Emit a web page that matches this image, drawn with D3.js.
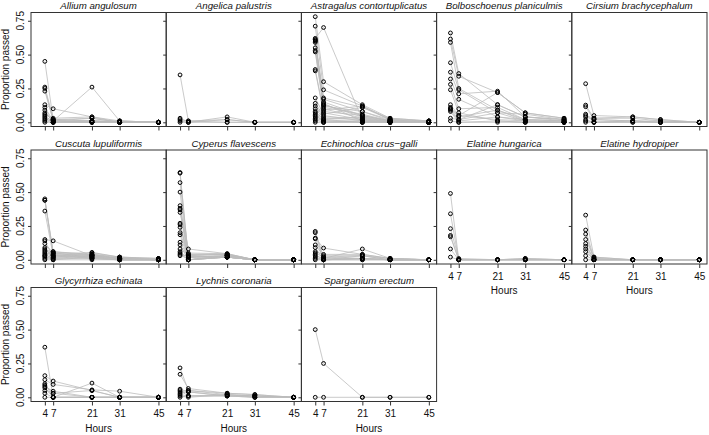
<!DOCTYPE html>
<html>
<head>
<meta charset="utf-8">
<style>
    body { margin: 0; background: #fff; }
    svg { display: block; font-family: "Liberation Sans", Arial, sans-serif; }
    .title { font-style: italic; font-size: 9.7px; fill: #111; }
    .axis text { font-size: 10px; fill: #111; font-family: "Liberation Sans", Arial, sans-serif; }
    .axis .domain { display: none; }
    .lab { font-size: 10px; fill: #111; }
</style>
</head>
<body>
<svg width="709" height="435"></svg>
<script src="https://d3js.org/d3.v7.min.js"></script>
<script>
// sampling times (hours) and y ticks
let hours = [4, 7, 21, 31, 45];
let yTicks = [0, 0.25, 0.5, 0.75];

let speciesNames = ["Allium angulosum", "Angelica palustris", "Astragalus contortuplicatus",
    "Bolboschoenus planiculmis", "Cirsium brachycephalum", "Cuscuta lupuliformis",
    "Cyperus flavescens", "Echinochloa crus\u2212galli", "Elatine hungarica", "Elatine hydropiper",
    "Glycyrrhiza echinata", "Lychnis coronaria", "Sparganium erectum"];

// one row per sample: proportion passed at 4, 7, 21, 31, 45 h
let allium = [
    [0.45, 0.02, 0.01, 0.01, 0], [0.26, 0.03, 0.04, 0.01, 0], [0.25, 0.01, 0.03, 0, 0],
    [0.23, 0.02, 0.01, 0, 0], [0.13, 0.10, 0.04, 0, 0], [0.11, 0.01, 0.26, 0.01, 0],
    [0.09, 0, 0.01, 0, 0], [0.07, 0.01, 0, 0, 0], [0.06, 0.02, 0.03, 0, 0],
    [0.05, 0, 0, 0, 0], [0.04, 0.01, 0.01, 0, 0], [0.03, 0, 0, 0, 0],
    [0.02, 0.01, 0, 0, 0], [0.01, 0, 0, 0, 0], [0, 0, 0, 0, 0]];
let angelica = [
    [0.35, 0.01, 0.02, 0, 0], [0.03, 0, 0.04, 0, 0], [0.02, 0.01, 0, 0, 0],
    [0.01, 0, 0.02, 0, 0], [0, 0, 0, 0, 0]];
let astragalus = [
    [0.78, 0.30, 0.13, 0.03, 0.01], [0.71, 0.24, 0.12, 0.02, 0.01], [0.62, 0.70, 0.02, 0.01, 0],
    [0.61, 0.18, 0.11, 0.02, 0], [0.60, 0.17, 0.08, 0.01, 0], [0.59, 0.15, 0.05, 0.01, 0],
    [0.55, 0.13, 0.04, 0.01, 0], [0.53, 0.12, 0.08, 0.02, 0.01], [0.52, 0.10, 0.03, 0, 0],
    [0.39, 0.08, 0.05, 0.01, 0], [0.38, 0.07, 0.02, 0, 0], [0.18, 0.06, 0.11, 0.03, 0.01],
    [0.14, 0.05, 0.01, 0, 0], [0.12, 0.04, 0.03, 0.01, 0], [0.10, 0.03, 0.02, 0, 0],
    [0.08, 0.02, 0.04, 0, 0], [0.07, 0.01, 0, 0, 0], [0.06, 0, 0.01, 0, 0],
    [0.05, 0.13, 0.05, 0.01, 0], [0.04, 0.02, 0, 0, 0], [0.03, 0.01, 0.01, 0, 0],
    [0.02, 0, 0, 0, 0], [0.01, 0.09, 0.12, 0.02, 0], [0, 0, 0, 0, 0],
    [0.60, 0.14, 0.01, 0, 0], [0.61, 0.11, 0.06, 0.01, 0]];
let bolboschoenus = [
    [0.66, 0.36, 0.13, 0.04, 0.02], [0.615, 0.34, 0.22, 0.07, 0.03], [0.59, 0.25, 0.09, 0.02, 0.01],
    [0.44, 0.24, 0.07, 0.06, 0.02], [0.37, 0.21, 0.23, 0.04, 0.01], [0.32, 0.17, 0.04, 0.01, 0],
    [0.28, 0.10, 0.11, 0.02, 0.01], [0.24, 0.07, 0.01, 0, 0], [0.13, 0.05, 0.22, 0.07, 0.03],
    [0.11, 0.04, 0.09, 0.01, 0], [0.10, 0.02, 0.13, 0.04, 0.02], [0.09, 0.01, 0.04, 0.02, 0.01],
    [0.08, 0, 0.01, 0, 0], [0.03, 0.02, 0.07, 0.01, 0], [0.01, 0, 0, 0, 0],
    [0.10, 0.05, 0.02, 0.01, 0]];
let cirsium = [
    [0.285, 0.05, 0.04, 0.02, 0], [0.127, 0.03, 0.03, 0.01, 0], [0.115, 0.02, 0.01, 0.01, 0],
    [0.06, 0, 0.01, 0, 0], [0.05, 0.03, 0.04, 0.02, 0], [0.04, 0.02, 0.01, 0, 0],
    [0.02, 0, 0.01, 0, 0], [0.01, 0, 0, 0, 0], [0, 0, 0, 0, 0]];
let cuscuta = [
    [0.45, 0.05, 0.03, 0.01, 0], [0.44, 0.06, 0.04, 0.02, 0.01], [0.44, 0.04, 0.02, 0.01, 0],
    [0.36, 0.03, 0.055, 0.02, 0.01], [0.15, 0.14, 0.03, 0.01, 0], [0.14, 0.02, 0.04, 0.01, 0],
    [0.12, 0.05, 0.02, 0, 0], [0.09, 0.01, 0.03, 0.01, 0], [0.07, 0.04, 0.01, 0, 0],
    [0.06, 0.03, 0.04, 0.01, 0.01], [0.05, 0.02, 0.02, 0, 0], [0.04, 0.06, 0.03, 0.01, 0],
    [0.03, 0.01, 0.01, 0, 0], [0.02, 0, 0.02, 0, 0], [0.01, 0.03, 0.01, 0, 0],
    [0, 0, 0, 0, 0], [0.08, 0.05, 0.05, 0.02, 0], [0.03, 0.02, 0.03, 0.01, 0]];
let cyperus = [
    [0.645, 0.02, 0.03, 0, 0], [0.64, 0, 0.02, 0, 0], [0.57, 0.03, 0.04, 0, 0],
    [0.50, 0, 0.03, 0, 0], [0.40, 0.02, 0.02, 0, 0], [0.38, 0.08, 0.045, 0, 0],
    [0.37, 0, 0.03, 0, 0], [0.35, 0.04, 0.04, 0, 0], [0.27, 0.02, 0.02, 0, 0],
    [0.26, 0, 0.03, 0, 0], [0.24, 0.05, 0.045, 0, 0], [0.20, 0.03, 0.02, 0, 0],
    [0.185, 0, 0.02, 0, 0], [0.13, 0.02, 0.03, 0, 0], [0.11, 0, 0.02, 0, 0],
    [0.08, 0.04, 0.04, 0, 0], [0.06, 0, 0.02, 0, 0], [0.05, 0.02, 0.03, 0, 0],
    [0.04, 0, 0.02, 0, 0], [0.03, 0.03, 0.02, 0, 0]];
let echinochloa = [
    [0.21, 0.02, 0.03, 0.01, 0], [0.20, 0, 0.01, 0, 0], [0.16, 0.087, 0.04, 0.01, 0],
    [0.155, 0.01, 0.08, 0.01, 0], [0.11, 0.03, 0.03, 0, 0], [0.09, 0, 0.01, 0, 0],
    [0.06, 0.04, 0.04, 0.01, 0], [0.05, 0.02, 0.01, 0, 0], [0.04, 0, 0.03, 0, 0],
    [0.03, 0.01, 0.01, 0, 0], [0.02, 0, 0.01, 0, 0], [0.01, 0, 0, 0, 0], [0, 0, 0, 0, 0]];
let elatineHung = [
    [0.49, 0, 0, 0.01, 0], [0.34, 0, 0, 0, 0], [0.23, 0.01, 0, 0.01, 0],
    [0.18, 0, 0, 0, 0], [0.17, 0, 0, 0, 0], [0.08, 0, 0, 0, 0], [0.02, 0, 0, 0, 0]];
let elatineHydr = [
    [0.33, 0.02, 0, 0, 0], [0.22, 0.01, 0, 0, 0], [0.19, 0, 0, 0, 0],
    [0.15, 0.02, 0, 0, 0], [0.12, 0, 0, 0, 0], [0.10, 0.01, 0, 0, 0],
    [0.08, 0, 0, 0, 0], [0.06, 0, 0, 0, 0], [0.03, 0, 0, 0, 0], [0, 0, 0, 0, 0]];
let glycyrrhiza = [
    [0.37, 0, 0, 0, 0], [0.16, 0.12, 0.05, 0, 0], [0.13, 0.095, 0.055, 0.045, 0],
    [0.10, 0, 0.105, 0, 0], [0.09, 0.03, 0.05, 0, 0], [0.08, 0.045, 0, 0, 0],
    [0.07, 0, 0, 0, 0], [0.05, 0.03, 0, 0, 0], [0.03, 0, 0, 0, 0], [0, 0, 0, 0, 0]];
let lychnis = [
    [0.217, 0.05, 0.02, 0.01, 0], [0.17, 0.065, 0.03, 0.02, 0], [0.06, 0.04, 0.01, 0.01, 0],
    [0.05, 0.01, 0.02, 0.01, 0], [0.04, 0.05, 0.03, 0.02, 0], [0.03, 0.04, 0.01, 0, 0],
    [0.02, 0.01, 0.01, 0.01, 0], [0.01, 0, 0.02, 0, 0], [0, 0.01, 0.01, 0, 0]];
let sparganium = [
    [0.5, 0.25, 0, 0, 0], [0, 0, 0, 0, 0]];

let samples = [allium, angelica, astragalus, bolboschoenus, cirsium, cuscuta, cyperus,
    echinochloa, elatineHung, elatineHydr, glycyrrhiza, lychnis, sparganium];

// layout
let left = 31, panelW = 135.2, top0 = 12.5, rowStep = 137.5, panelH = 114, nCol = 5;

let svg = d3.select("svg");

let x = d3.scaleLinear().domain([-1, 47.8]).range([0, panelW]);
let y = d3.scaleLinear().domain([-0.031, 0.811]).range([panelH, 0]);

let line = d3.line()
    .x((d, j) => x(hours[j]))
    .y(d => y(d));

speciesNames.forEach((name, i) => {
    let col = i % nCol, row = Math.floor(i / nCol);
    let showX = i + nCol >= speciesNames.length;
    let showY = col === 0;

    let g = svg.append("g")
        .attr("transform", `translate(${left + col * panelW},${top0 + row * rowStep})`);

    // sample trajectories
    g.append("g")
        .selectAll("path")
        .data(samples[i])
        .join("path")
        .attr("d", line)
        .attr("fill", "none")
        .attr("stroke", "#bdbdbd")
        .attr("stroke-width", 0.8);

    let pts = samples[i].flatMap(s => s.map((v, j) => ({ h: hours[j], v: v })));
    g.append("g")
        .selectAll("circle")
        .data(pts)
        .join("circle")
        .attr("cx", d => x(d.h))
        .attr("cy", d => y(d.v))
        .attr("r", 1.9)
        .attr("fill", "none")
        .attr("stroke", "#000")
        .attr("stroke-width", 1);

    g.append("rect")
        .attr("width", panelW)
        .attr("height", panelH)
        .attr("fill", "none")
        .attr("stroke", "#333")
        .attr("stroke-width", 1);

    g.append("g")
        .attr("class", "axis")
        .attr("color", "#333")
        .call(d3.axisLeft(y).tickValues(yTicks).tickSize(3).tickFormat(""));

    g.append("g")
        .attr("class", "axis")
        .attr("color", "#333")
        .attr("transform", `translate(0,${panelH})`)
        .call(d3.axisBottom(x).tickValues(hours).tickSize(4).tickPadding(4.5)
            .tickFormat(showX ? d3.format("d") : ""));

    if (showY) {
        g.append("g")
            .attr("class", "ylabels")
            .selectAll("text")
            .data(yTicks)
            .join("text")
            .attr("class", "lab")
            .attr("transform", d => `translate(-7,${y(d)}) rotate(-90)`)
            .attr("text-anchor", "middle")
            .text(d => d.toFixed(2));

        g.append("text")
            .attr("class", "lab")
            .attr("transform", `translate(${9 - left},${panelH / 2}) rotate(-90)`)
            .attr("text-anchor", "middle")
            .text("Proportion passed");
    }

    if (showX) {
        g.append("text")
            .attr("class", "lab")
            .attr("x", panelW / 2)
            .attr("y", panelH + 30)
            .attr("text-anchor", "middle")
            .text("Hours");
    }

    g.append("text")
        .attr("class", "title")
        .attr("x", panelW / 2)
        .attr("y", -3.5)
        .attr("text-anchor", "middle")
        .text(name);
});
</script>
</body>
</html>
